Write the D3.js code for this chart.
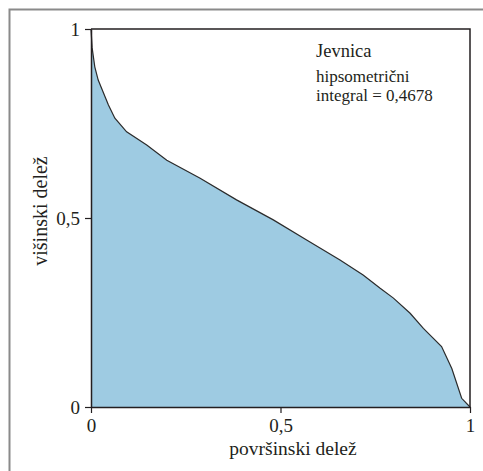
<!DOCTYPE html>
<html><head><meta charset="utf-8">
<script src="https://cdn.jsdelivr.net/npm/d3@7"></script>
<style>body{margin:0;background:#fff}svg{display:block}</style>
</head><body>
<svg id="c" width="483" height="471"></svg>
<script>
const areaShare = [0, 0.003, 0.01, 0.019, 0.046, 0.063, 0.094, 0.147, 0.2, 0.288, 0.384, 0.481, 0.569, 0.657, 0.718, 0.763, 0.798, 0.842, 0.877, 0.925, 0.952, 0.978, 1];
const heightShare = [1, 0.95, 0.9, 0.865, 0.799, 0.764, 0.728, 0.693, 0.653, 0.605, 0.548, 0.495, 0.442, 0.389, 0.349, 0.314, 0.288, 0.248, 0.208, 0.16, 0.102, 0.023, 0];
const tickValues = [0, 0.5, 1];
const tickLabels = ["0", "0,5", "1"];
const titleText = "Jevnica";
const noteLines = ["hipsometrični", "integral = 0,4678"];
const xTitle = "površinski delež";
const yTitle = "višinski delež";

const FONT = "'Liberation Serif'";
const INK = "#231f20";
const svg = d3.select("#c");
const L = 91, R = 470, T = 29, B = 407;
const x = d3.scaleLinear().domain([0, 1]).range([L, R]);
const y = d3.scaleLinear().domain([0, 1]).range([B, T]);
const pts = areaShare.map((v, i) => [v, heightShare[i]]);

// outer frame (only left and top edges fall inside the picture)
svg.append("rect").attr("x", 9.5).attr("y", 9.5).attr("width", 490).attr("height", 490)
  .attr("fill", "none").attr("stroke", "#8a8a8a").attr("stroke-width", 2);

svg.append("path").datum(pts)
  .attr("d", d3.area().x(d => x(d[0])).y0(y(0)).y1(d => y(d[1])))
  .attr("fill", "#9ecbe2");
svg.append("path").datum(pts)
  .attr("d", d3.line().x(d => x(d[0])).y(d => y(d[1])))
  .attr("fill", "none").attr("stroke", "#2b2b2b").attr("stroke-width", 1.2);

svg.append("path").attr("d", `M${L},${T}H${R}V${B}`).attr("fill", "none")
  .attr("stroke", INK).attr("stroke-width", 1.5);

const fmt = d => tickLabels[tickValues.indexOf(d)];
const xa = svg.append("g").attr("transform", `translate(0,${B})`)
  .call(d3.axisBottom(x).tickValues(tickValues).tickFormat(fmt).tickSize(6).tickSizeOuter(0).tickPadding(6));
const ya = svg.append("g").attr("transform", `translate(${L},0)`)
  .call(d3.axisLeft(y).tickValues(tickValues).tickFormat(fmt).tickSize(6).tickSizeOuter(0).tickPadding(5));
[xa, ya].forEach(g => {
  g.attr("font-family", null).attr("font-size", null);
  g.select(".domain").attr("stroke", INK).attr("stroke-width", 1.5);
  g.selectAll(".tick line").attr("stroke", INK).attr("stroke-width", 1.2);
  g.selectAll(".tick text").attr("fill", INK).style("font-family", FONT).style("font-size", "19px");
});

svg.append("text").attr("x", 293).attr("y", 455).attr("text-anchor", "middle")
  .style("font-family", FONT).style("font-size", "19.5px").attr("fill", INK).text(xTitle);
svg.append("text").attr("transform", `translate(47,211) rotate(-90)`).attr("text-anchor", "middle")
  .style("font-family", FONT).style("font-size", "20px").attr("fill", INK).text(yTitle);

svg.append("text").attr("x", 316).attr("y", 57)
  .style("font-family", FONT).style("font-size", "18.5px").attr("fill", INK).text(titleText);
svg.selectAll("text.note").data(noteLines).enter().append("text").attr("class", "note")
  .attr("x", 316).attr("y", (d, i) => 82 + i * 19)
  .style("font-family", FONT).style("font-size", "17px").attr("fill", INK).text(d => d);
</script>
</body></html>
